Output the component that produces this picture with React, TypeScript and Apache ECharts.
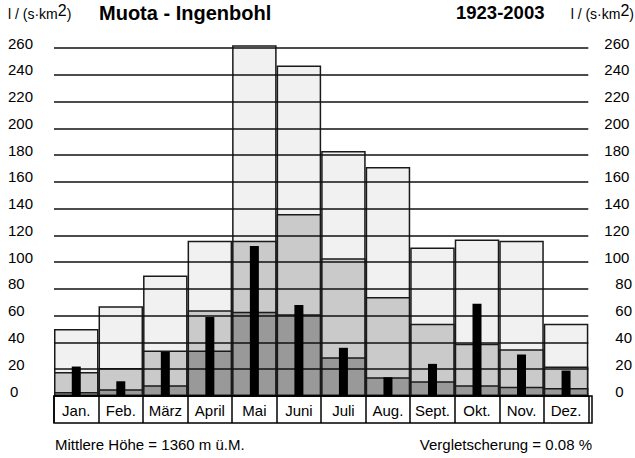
import React, { useEffect, useRef } from "react";
import * as echarts from "echarts";

const months = ["Jan.", "Feb.", "März", "April", "Mai", "Juni", "Juli", "Aug.", "Sept.", "Okt.", "Nov.", "Dez."];
const maxValues = [50, 67, 90, 116, 262, 247, 183, 171, 111, 117, 116, 54];
const meanValues = [18, 21, 34, 64, 116, 136, 103, 74, 54, 39, 35, 22];
const minValues = [3, 5, 8, 34, 63, 61, 29, 14, 11, 8, 7, 6];
const yearValues = [22, 11, 33, 59, 112, 68, 36, 14, 24, 69, 31, 19];
const yTicks = { min: 0, max: 260, interval: 20 };

const FONT = "'Liberation Sans', Arial, Helvetica, sans-serif";

export default function App() {
  const ref = useRef<HTMLDivElement>(null);
  useEffect(() => {
    if (!ref.current) return;
    const chart = echarts.init(ref.current, null, { renderer: "svg" });
    const border = { borderColor: "#1a1a1a", borderWidth: 1.5 };
    const leftFmt = (v: number) => (v < 10 ? `{p|${v}}` : `{n|${v}}`);
    const rightFmt = (v: number) => (v < 100 ? `{p2|${v}}` : `{n|${v}}`);
    const labelRich = {
      n: { fontSize: 15, fontFamily: FONT, color: "#000" },
      p: { fontSize: 15, fontFamily: FONT, color: "#000", padding: [0, 0, 0, 2] },
      p2: { fontSize: 15, fontFamily: FONT, color: "#000", padding: [0, 0, 0, 11] },
    };
    const unitStyle = {
      text: "l / (s·km{s|2})",
      fontSize: 14,
      fontFamily: FONT,
      fill: "#000",
      rich: { s: { fontSize: 16, fontFamily: FONT, fill: "#000", padding: [0, 0, 7, 0] } },
    };
    chart.setOption({
      animation: false,
      backgroundColor: "#fff",
      grid: [
        { left: 54, right: 43, top: 48, height: 348, containLabel: false },
        { left: 54, right: 43, top: 396, height: 27, show: true, borderColor: "#000", borderWidth: 1.5, backgroundColor: "transparent" },
      ],
      xAxis: [
        {
          type: "category",
          gridIndex: 0,
          data: months,
          boundaryGap: true,
          axisLine: { show: true, lineStyle: { color: "#000", width: 1.5 } },
          axisTick: { show: true, interval: 0, length: 27, lineStyle: { color: "#000", width: 1.5 } },
          axisLabel: { show: true, interval: 0, margin: 7, fontSize: 15, fontFamily: FONT, color: "#000", verticalAlign: "top" },
          splitLine: { show: false },
          z: 5,
        },
        { type: "category", gridIndex: 0, data: months, show: false },
        { type: "category", gridIndex: 1, data: months, show: false },
      ],
      yAxis: [
        {
          type: "value",
          gridIndex: 0,
          min: yTicks.min,
          max: yTicks.max,
          interval: yTicks.interval,
          position: "left",
          axisLine: { show: false },
          axisTick: { show: false },
          axisLabel: { show: true, align: "left", margin: 46, formatter: leftFmt, rich: labelRich, verticalAlign: "middle", padding: [0, 0, 10, 0] },
          splitLine: { show: true, lineStyle: { color: "#111", width: 1.5 } },
          z: 3,
        },
        {
          type: "value",
          gridIndex: 0,
          min: yTicks.min,
          max: yTicks.max,
          interval: yTicks.interval,
          position: "right",
          axisLine: { show: false },
          axisTick: { show: false },
          axisLabel: { show: true, align: "left", margin: 16, formatter: rightFmt, rich: labelRich, verticalAlign: "middle", padding: [0, 0, 10, 0] },
          splitLine: { show: false },
        },
        { type: "value", gridIndex: 1, show: false },
      ],
      series: [
        {
          type: "bar",
          xAxisIndex: 0,
          yAxisIndex: 0,
          data: maxValues,
          barWidth: "100%",
          barGap: "-100%",
          clip: false,
          itemStyle: { color: "#f1f1f1", ...border },
          z: 1,
        },
        {
          type: "bar",
          xAxisIndex: 0,
          yAxisIndex: 0,
          data: meanValues,
          barWidth: "100%",
          barGap: "-100%",
          clip: false,
          itemStyle: { color: "#cacaca", ...border },
          z: 1,
        },
        {
          type: "bar",
          xAxisIndex: 0,
          yAxisIndex: 0,
          data: minValues,
          barWidth: "100%",
          barGap: "-100%",
          clip: false,
          itemStyle: { color: "#999999", ...border },
          z: 1,
        },
        {
          type: "bar",
          xAxisIndex: 1,
          yAxisIndex: 0,
          data: yearValues,
          barWidth: 9,
          clip: false,
          itemStyle: { color: "#000" },
          z: 6,
        },
      ],
      graphic: [
        { type: "text", left: 8, top: 2, style: unitStyle },
        {
          type: "text",
          left: 99,
          top: 3,
          style: { text: "Muota - Ingenbohl", fontSize: 20, fontWeight: "bold", fontFamily: FONT, fill: "#000" },
        },
        {
          type: "text",
          left: 456,
          top: 3,
          style: { text: "1923-2003", fontSize: 18.5, fontWeight: "bold", fontFamily: FONT, fill: "#000" },
        },
        { type: "text", right: 1, top: 2, style: unitStyle },
        {
          type: "text",
          left: 55,
          top: 437,
          style: { text: "Mittlere Höhe = 1360 m ü.M.", fontSize: 15, fontFamily: FONT, fill: "#000" },
        },
        {
          type: "text",
          right: 43,
          top: 437,
          style: { text: "Vergletscherung = 0.08 %", fontSize: 15, fontFamily: FONT, fill: "#000" },
        },
      ],
    });
    return () => chart.dispose();
  }, []);
  return <div ref={ref} style={{ position: "fixed", left: 0, top: 0, width: 635, height: 458 }} />;
}
